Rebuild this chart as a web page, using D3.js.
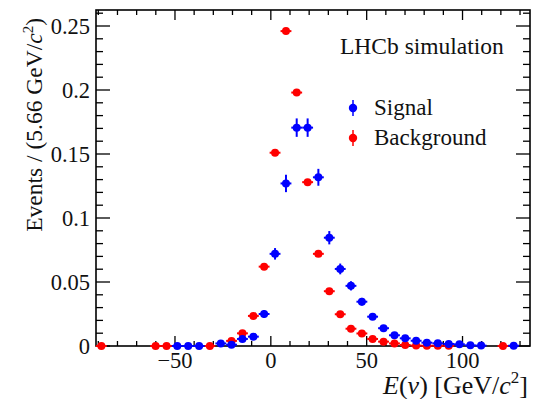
<!DOCTYPE html>
<html>
<head>
<meta charset="utf-8">
<script src="https://cdn.jsdelivr.net/npm/d3@7"></script>
<style>
  body { margin: 0; background: white; }
  text { font-family: "Liberation Serif", "Times New Roman", serif; fill: #111; }
</style>
</head>
<body>
<div id="chart"></div>
<script>
// bin width 5.66 GeV/c^2, bin centres
const sigE   = [-48.8, -43.1, -37.4, -26.1, -20.5, -14.8, -9.1, -3.5, 2.2, 7.9, 13.5, 19.2, 24.8, 30.5, 36.2, 41.8, 47.5, 53.1, 58.8, 64.5, 70.1, 75.8, 81.4, 87.1, 92.8, 98.4, 104.1, 109.7, 126.7];
const sigVal = [0, 0, 0, 0.002, 0.001, 0.0055, 0.0073, 0.025, 0.072, 0.127, 0.1706, 0.1706, 0.1318, 0.0846, 0.0602, 0.047, 0.0346, 0.0229, 0.0139, 0.0084, 0.006, 0.0041, 0.0026, 0.0021, 0.0016, 0.0013, 0.0005, 0.0003, 0.0002];
const sigErr = [0, 0, 0, 0.001, 0.0007, 0.0017, 0.002, 0.003, 0.0045, 0.0068, 0.0072, 0.0072, 0.0066, 0.0052, 0.0042, 0.0036, 0.003, 0.0025, 0.002, 0.0015, 0.0013, 0.001, 0.0008, 0.0007, 0.0006, 0.0005, 0.0003, 0.0003, 0];

const bkgE   = [-88.4, -60.1, -54.4, -31.8, -20.5, -14.8, -9.1, -3.5, 2.2, 7.9, 13.5, 19.2, 24.8, 30.5, 36.2, 41.8, 47.5, 53.1, 58.8, 64.5, 70.1, 75.8, 81.4, 87.1, 92.8, 121.1];
const bkgVal = [0, 0, 0, 0, 0.004, 0.0099, 0.0235, 0.062, 0.151, 0.246, 0.198, 0.128, 0.072, 0.0428, 0.0248, 0.0135, 0.0098, 0.0055, 0.0034, 0.002, 0.0008, 0.0003, 0.0002, 0.0002, 0.0001, 0];
const bkgErr = [0, 0, 0, 0, 0.0006, 0.0009, 0.001, 0.0012, 0.0018, 0.0022, 0.002, 0.0016, 0.0012, 0.001, 0.0008, 0.0006, 0.0005, 0.0004, 0.0003, 0.0002, 0.0001, 0, 0, 0, 0, 0];

const binW = 5.66;
const xTicks = [-50, 0, 50, 100];
const yTicks = [0, 0.05, 0.1, 0.15, 0.2, 0.25];

const W = 533, H = 399;
const L = 96, R = 530, T = 10, B = 346;

const svg = d3.select("#chart").append("svg")
    .attr("width", W).attr("height", H)
    .style("background-color", "white");

const x = d3.scaleLinear().domain([-91.2, 135.2]).range([L, R]);
const y = d3.scaleLinear().domain([0, 0.2625]).range([B, T]);

// frame
svg.append("rect")
    .attr("x", L).attr("y", T).attr("width", R - L).attr("height", B - T)
    .attr("fill", "none").attr("stroke", "black").attr("stroke-width", 1.6);

// ticks (inside, mirrored)
const g = svg.append("g").attr("stroke", "black").attr("stroke-width", 1.3);
d3.range(-90, 136, 10).forEach(v => {
    const major = v % 50 === 0;
    const len = major ? 10 : 5;
    g.append("line").attr("x1", x(v)).attr("x2", x(v)).attr("y1", B).attr("y2", B - len);
    g.append("line").attr("x1", x(v)).attr("x2", x(v)).attr("y1", T).attr("y2", T + len);
});
d3.range(0, 27).forEach(k => {
    const v = k / 100;
    const major = k % 5 === 0;
    const len = major ? 14 : 7;
    g.append("line").attr("x1", L).attr("x2", L + len).attr("y1", y(v)).attr("y2", y(v));
    g.append("line").attr("x1", R).attr("x2", R - len).attr("y1", y(v)).attr("y2", y(v));
});

// tick labels
svg.selectAll(".xl").data(xTicks).join("text")
    .attr("x", d => x(d)).attr("y", 368)
    .attr("text-anchor", "middle").style("font-size", "22.5px")
    .text(d => d < 0 ? "\u2212" + Math.abs(d) : d);

svg.selectAll(".yl").data(yTicks).join("text")
    .attr("x", 90).attr("y", d => y(d)).attr("dy", "0.35em")
    .attr("text-anchor", "end").style("font-size", "22.5px")
    .text(d => d);

// axis titles
const xt = svg.append("text").attr("x", 528).attr("y", 394)
    .attr("text-anchor", "end").style("font-size", "26px");
xt.append("tspan").style("font-style", "italic").text("E");
xt.append("tspan").text("(");
xt.append("tspan").style("font-style", "italic").text("\u03bd");
xt.append("tspan").text(") [GeV/");
xt.append("tspan").style("font-style", "italic").text("c");
xt.append("tspan").attr("dy", -11).style("font-size", "17px").text("2");
xt.append("tspan").attr("dy", 11).text("]");

const yt = svg.append("text").attr("transform", "translate(42,18) rotate(-90)")
    .attr("text-anchor", "end").style("font-size", "23.5px");
yt.append("tspan").text("Events / (5.66 GeV/");
yt.append("tspan").style("font-style", "italic").text("c");
yt.append("tspan").attr("dy", -9).style("font-size", "15px").text("2");
yt.append("tspan").attr("dy", 9).text(")");

// data points with error bars
function drawSeries(E, V, Err, color) {
    const pts = E.map((e, i) => ({ e: e, v: V[i], s: Err[i] }));
    const s = svg.append("g");
    s.selectAll(".h").data(pts).join("line")
        .attr("x1", d => x(d.e - binW / 2)).attr("x2", d => x(d.e + binW / 2))
        .attr("y1", d => y(d.v)).attr("y2", d => y(d.v))
        .attr("stroke", color).attr("stroke-width", 2);
    s.selectAll(".v").data(pts).join("line")
        .attr("x1", d => x(d.e)).attr("x2", d => x(d.e))
        .attr("y1", d => y(d.v - d.s)).attr("y2", d => y(d.v + d.s))
        .attr("stroke", color).attr("stroke-width", 2);
    s.selectAll("circle").data(pts).join("circle")
        .attr("cx", d => x(d.e)).attr("cy", d => y(d.v)).attr("r", 4)
        .attr("fill", color);
}
drawSeries(bkgE, bkgVal, bkgErr, "#ff0000");
drawSeries(sigE, sigVal, sigErr, "#0000ff");

// labels + legend
svg.append("text").attr("x", 340).attr("y", 54).style("font-size", "23.5px").text("LHCb simulation");

const legend = [["Signal", "#0000ff", 108], ["Background", "#ff0000", 138]];
legend.forEach(([name, color, ly]) => {
    svg.append("line").attr("x1", 353).attr("x2", 353).attr("y1", ly - 8).attr("y2", ly + 8)
        .attr("stroke", color).attr("stroke-width", 1.5);
    svg.append("circle").attr("cx", 353).attr("cy", ly).attr("r", 4.2).attr("fill", color);
    svg.append("text").attr("x", 374).attr("y", ly + 7).style("font-size", "23px").text(name);
});
</script>
</body>
</html>
